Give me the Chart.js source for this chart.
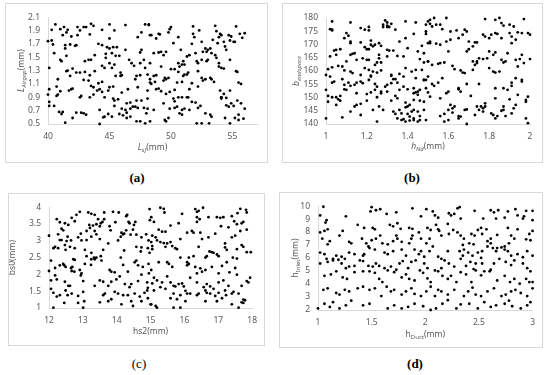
<!DOCTYPE html>
<html>
<head>
<meta charset="utf-8">
<script src="https://cdn.jsdelivr.net/npm/chart.js@4"></script>
<style>
  body { margin: 0; background: #fff; width: 550px; height: 375px; position: relative; overflow: hidden; }
  .panel { position: absolute; border: 1px solid #d9d9d9; box-sizing: border-box; background: #fff; }
  .panel canvas { display: block; }
  .tag { position: absolute; font-family: 'Liberation Serif', serif; font-size: 13px; color: #000;
         transform: translate(-50%, -50%); white-space: nowrap; }
</style>
</head>
<body>
<div class="panel" style="left:5px;top:3px;width:263px;height:160px"><canvas id="chartA"></canvas></div>
<div class="panel" style="left:282px;top:3px;width:261px;height:160px"><canvas id="chartB"></canvas></div>
<div class="panel" style="left:8px;top:193px;width:257px;height:153px"><canvas id="chartC"></canvas></div>
<div class="panel" style="left:279px;top:192px;width:264px;height:156px"><canvas id="chartD"></canvas></div>
<div class="tag" style="left:137px;top:178px;font-weight:bold">(a)</div>
<div class="tag" style="left:412px;top:178px;font-weight:bold">(b)</div>
<div class="tag" style="left:139px;top:364px">(c)</div>
<div class="tag" style="left:415px;top:364px;font-weight:bold">(d)</div>

<script>
// tick labels
const aXTicks = [40, 45, 50, 55];
const aYTicks = [0.5, 0.7, 0.9, 1.1, 1.3, 1.5, 1.7, 1.9, 2.1];
const bXTicks = [1, 1.2, 1.4, 1.6, 1.8, 2];
const bYTicks = [140, 145, 150, 155, 160, 165, 170, 175, 180];
const cXTicks = [12, 13, 14, 15, 16, 17, 18];
const cYTicks = [1, 1.5, 2, 2.5, 3, 3.5, 4];
const dXTicks = [1, 1.5, 2, 2.5, 3];
const dYTicks = [2, 3, 4, 5, 6, 7, 8, 9, 10];

// (a) L_sf vs L_Airgap
const aPoints = [
  [40.6,1.99],[41.0,1.92],[41.3,1.95],[41.6,1.91],[42.4,1.95],[42.6,1.9],[42.9,1.95],[43.1,1.95],[43.5,2.0],[43.7,1.97],
  [44.4,1.91],[45.0,1.99],[45.4,1.9],[46.3,1.98],[47.9,1.99],[48.2,1.98],[40.3,1.91],
  [41.2,1.83],[41.5,1.87],[41.9,1.81],[40.0,1.74],[40.3,1.75],[40.4,1.69],[41.4,1.68],[41.8,1.69],[42.2,1.67],[42.3,1.68],
  [41.4,1.63],[42.4,1.83],[43.4,1.84],[44.1,1.7],[44.4,1.68],[44.8,1.65],[45.0,1.63],[45.3,1.65],[45.6,1.65],[45.0,1.78],
  [45.2,1.56],[44.7,1.55],[45.5,1.52],[45.8,1.52],[46.3,1.61],[47.3,1.8],[47.6,1.87],[47.5,1.57],[47.6,1.61],[48.3,1.83],
  [40.5,1.56],[41.0,1.46],[41.1,1.44],[41.5,1.52],[43.0,1.44],[43.3,1.46],[43.5,1.46],[43.8,1.53],[44.7,1.49],[45.0,1.41],
  [45.4,1.39],[46.6,1.46],[46.8,1.41],[47.0,1.37],[47.5,1.41],[47.8,1.46],[47.9,1.34],[48.3,1.41],
  [40.1,1.34],[41.5,1.29],[41.6,1.3],[42.0,1.33],[42.3,1.27],[42.6,1.27],[43.0,1.28],[43.4,1.23],[43.8,1.29],[44.4,1.37],
  [44.6,1.34],[45.2,1.34],[45.9,1.22],[46.0,1.23],[45.9,1.27],[47.1,1.17],[47.2,1.22],[47.5,1.23],
  [40.8,1.17],[41.8,1.22],[42.9,1.16],[43.3,1.15],[43.5,1.07],[43.7,1.05],[44.1,1.11],[44.4,1.13],[44.0,1.0],[44.2,1.02],
  [44.9,1.0],[45.0,1.05],[45.3,1.06],[45.5,1.22],[46.5,1.02],[47.3,1.05],[48.3,1.12],
  [40.1,1.02],[40.7,1.06],[41.0,0.99],[41.7,1.0],[41.9,1.02],[42.0,1.03],[43.4,0.9],[43.7,0.94],[44.4,0.98],[44.6,0.9],
  [45.3,0.88],[45.4,0.85],[45.7,0.87],[46.0,0.97],[46.4,0.81],[46.7,0.82],[47.1,0.76],[47.2,0.85],[47.6,0.85],[48.1,0.88],
  [40.0,0.94],[40.7,0.92],[40.8,0.94],[42.6,0.9],[42.7,0.92],[40.1,0.83],[40.5,0.77],[40.1,0.77],[45.4,0.77],[45.8,0.65],
  [46.0,0.73],[46.3,0.71],[46.4,0.67],[46.4,0.59],[46.1,0.63],[46.7,0.73],[46.9,0.76],[47.3,0.74],[47.8,0.74],[48.0,0.66],
  [40.9,0.68],[41.1,0.65],[41.2,0.68],[42.0,0.59],[42.3,0.67],[42.7,0.67],[42.9,0.66],[43.1,0.64],[44.2,0.71],[44.5,0.6],
  [44.6,0.61],[44.9,0.65],[45.2,0.61],[46.7,0.61],[41.4,0.52],[44.2,0.5],[47.2,0.54],[47.5,0.54],[47.9,0.51],[48.3,0.54],
  [48.2,1.99],[48.4,1.83],[49.0,1.85],[49.1,1.84],[48.8,1.78],[49.8,1.87],[49.9,1.92],[50.0,1.95],[50.6,1.8],[50.2,1.71],
  [51.8,1.96],[51.8,1.85],[51.9,1.8],[51.7,1.7],[52.3,1.9],[52.5,1.73],[53.6,1.97],[53.7,1.89],[54.0,1.85],[53.9,1.8],
  [54.1,1.83],[54.3,1.73],[54.7,1.83],[54.9,1.81],[54.8,1.75],[55.3,1.96],[55.6,1.85],[56.0,1.86],[55.8,1.79],[53.4,1.76],
  [53.8,1.71],[54.4,1.66],[54.5,1.61],[55.1,1.73],[55.2,1.73],
  [48.6,1.56],[49.0,1.57],[49.4,1.53],[49.2,1.58],[49.6,1.58],[50.8,1.61],[51.3,1.51],[51.5,1.53],[52.0,1.56],[52.1,1.44],
  [52.2,1.41],[52.5,1.46],[52.6,1.58],[52.8,1.63],[52.9,1.58],[53.0,1.61],[53.2,1.63],[53.3,1.56],[53.0,1.46],[52.9,1.44],
  [53.6,1.53],[53.7,1.49],[53.9,1.41],[53.9,1.36],[54.1,1.34],[54.3,1.33],[54.8,1.46],[55.3,1.29],[55.4,1.28],
  [48.1,1.24],[48.3,1.17],[48.4,1.1],[48.6,1.22],[48.7,1.13],[48.8,1.23],[49.2,1.36],[49.4,1.15],[49.5,1.19],[49.6,1.17],
  [49.8,1.19],[50.0,1.32],[50.3,1.32],[50.6,1.41],[50.9,1.39],[51.0,1.44],[50.7,1.36],[51.1,1.39],[51.4,1.27],[51.3,1.24],
  [51.0,1.22],[51.1,1.24],[50.9,1.13],[50.5,1.12],[50.6,1.28],[51.5,1.02],[51.7,1.11],[52.2,1.29],[52.2,1.06],[52.6,1.15],
  [52.5,1.19],[52.8,1.17],[53.2,1.19],[53.3,1.17],[53.5,1.13],[54.0,1.0],[54.1,0.9],[54.3,0.95],[54.5,0.89],[54.8,1.0],
  [55.5,1.12],[55.7,1.1],
  [48.1,1.0],[48.8,1.02],[49.0,1.03],[49.2,0.99],[49.6,0.95],[49.9,0.98],[50.3,1.01],[50.2,0.88],[50.3,0.84],[50.6,0.9],
  [50.9,0.9],[51.3,0.9],[51.4,0.9],[51.7,0.83],[52.2,0.74],[52.4,0.77],[52.8,0.66],[53.2,0.64],[54.1,0.9],[54.1,0.88],
  [54.5,0.78],[54.7,0.76],[54.9,0.81],[55.1,0.77],[55.4,0.85],[55.7,0.81],[56.0,0.73],
  [48.1,0.73],[48.6,0.71],[49.4,0.81],[49.9,0.73],[50.3,0.74],[50.5,0.76],[50.9,0.71],[51.1,0.73],[51.5,0.71],[52.0,0.82],
  [49.5,0.56],[49.6,0.54],[49.8,0.59],[50.7,0.66],[50.9,0.64],[52.1,0.51],[52.5,0.51],[53.1,0.51],[53.3,0.61],[54.4,0.59],
  [54.8,0.51],[55.2,0.59],[55.5,0.64],[55.5,0.56],[55.9,0.58]
];

// (b) h_Nd vs b
const bPoints = [
  [1.03,178.7],[1.12,178.3],[1.02,175.8],[1.03,175.6],[1.03,175.3],[1.17,176.2],[1.19,175.6],[1.21,176.6],[1.21,175.3],[1.29,179.1],
  [1.3,178.3],[1.28,177.5],[1.3,177.1],[1.31,176.6],[1.3,176.6],[1.28,176.6],[1.32,177.8],[1.34,175.6],[1.39,178.7],[1.44,178.3],
  [1.49,177.5],[1.5,178.7],
  [1.09,172.4],[1.11,173.3],[1.1,174.3],[1.12,170.5],[1.12,171.1],[1.17,170.8],[1.19,169.0],[1.2,168.2],[1.22,171.5],[1.22,169.9],
  [1.24,169.9],[1.21,168.2],[1.23,169.3],[1.26,170.5],[1.27,169.5],[1.3,168.0],[1.31,167.7],[1.33,167.7],[1.36,171.1],[1.39,172.4],
  [1.43,174.0],[1.49,174.0],[1.5,170.5],[1.47,169.5],
  [1.04,167.7],[1.05,168.0],[1.07,168.2],[1.05,166.1],[1.02,165.5],[1.13,166.5],[1.12,166.1],[1.14,166.7],[1.18,164.8],[1.2,164.2],
  [1.21,164.2],[1.26,166.1],[1.26,164.8],[1.27,163.2],[1.25,163.2],[1.3,165.5],[1.35,165.7],[1.38,165.5],[1.4,168.6],[1.45,167.4],
  [1.48,166.7],[1.46,164.5],[1.48,163.2],[1.5,163.6],
  [1.01,160.7],[1.03,161.4],[1.06,161.9],[1.08,161.7],[1.1,163.6],[1.12,159.8],[1.13,159.2],[1.09,160.2],[1.15,164.2],[1.17,158.5],
  [1.19,161.1],[1.21,160.4],[1.23,159.8],[1.22,158.2],[1.24,162.3],[1.25,159.4],[1.27,160.2],[1.32,158.2],[1.32,158.5],[1.33,156.9],
  [1.34,156.9],[1.35,155.6],[1.36,158.9],[1.38,157.9],[1.39,161.1],[1.42,159.8],[1.44,157.3],[1.44,160.4],[1.47,160.4],[1.48,156.6],
  [1.5,157.9],
  [1.0,158.5],[1.02,157.9],[1.03,155.6],[1.04,156.0],[1.08,156.9],[1.09,154.8],[1.11,155.6],[1.12,154.4],[1.14,154.8],[1.15,155.6],
  [1.17,156.0],[1.18,155.4],[1.21,156.6],[1.22,157.9],[1.24,152.9],[1.24,155.1],[1.25,154.1],[1.27,152.2],[1.29,154.1],[1.3,154.8],
  [1.3,152.2],[1.32,155.4],[1.36,152.9],[1.38,154.1],[1.4,153.1],[1.43,153.5],[1.43,151.6],[1.44,151.9],[1.45,152.2],[1.46,152.9],
  [1.48,156.6],[1.49,153.5],[1.5,151.9],
  [1.0,152.9],[1.01,150.6],[1.03,150.1],[1.05,150.1],[1.06,149.3],[1.07,148.8],[1.07,150.6],[1.09,153.1],[1.1,152.9],[1.15,151.6],
  [1.2,151.3],[1.2,148.8],[1.22,151.9],[1.25,150.1],[1.26,146.6],[1.27,151.6],[1.32,148.8],[1.34,150.6],[1.35,149.7],[1.39,148.1],
  [1.4,146.6],[1.41,147.2],[1.43,149.1],[1.45,151.0],[1.46,148.8],[1.48,148.4],
  [1.01,148.4],[1.05,147.2],[1.12,144.7],[1.14,146.6],[1.15,147.2],[1.17,147.6],[1.23,145.3],[1.28,145.3],[1.33,144.7],[1.36,145.3],
  [1.37,144.0],[1.39,146.3],[1.4,143.8],[1.41,142.8],[1.42,144.7],[1.43,145.3],[1.45,144.7],[1.46,143.0],[1.48,145.3],
  [1.0,142.1],[1.08,142.5],[1.17,143.4],[1.25,140.9],[1.34,143.8],[1.35,142.1],[1.37,141.5],[1.38,141.8],[1.39,140.9],[1.41,141.3],
  [1.43,142.1],[1.43,141.5],[1.45,140.9],[1.46,141.5],[1.49,141.5],
  [1.51,179.3],[1.53,180.0],[1.51,177.8],[1.54,177.5],[1.52,176.8],[1.56,177.5],[1.57,175.8],[1.59,180.0],[1.49,174.9],[1.61,174.9],
  [1.64,175.3],[1.68,175.6],[1.78,179.6],[1.83,179.3],[1.85,180.0],[1.86,178.1],[1.87,177.1],[1.9,177.5],[1.92,176.8],[1.97,179.6],
  [1.99,174.3],[2.0,173.7],[1.94,174.6],[1.91,173.0],[1.9,174.3],
  [1.51,171.1],[1.51,170.5],[1.54,170.3],[1.56,169.9],[1.59,171.1],[1.61,171.8],[1.65,172.4],[1.67,173.7],[1.69,174.9],[1.7,171.1],
  [1.73,170.8],[1.74,170.8],[1.72,169.3],[1.69,167.4],[1.7,168.2],[1.77,173.7],[1.78,173.0],[1.8,172.4],[1.81,173.7],[1.83,174.3],
  [1.84,174.0],[1.91,170.5],[1.93,171.8],[1.96,174.3],[1.86,172.4],
  [1.5,163.6],[1.52,162.3],[1.55,162.7],[1.56,163.0],[1.58,163.2],[1.6,167.4],[1.62,161.9],[1.63,160.7],[1.66,160.2],[1.67,159.4],
  [1.68,159.2],[1.72,160.4],[1.73,162.3],[1.74,163.0],[1.74,163.6],[1.75,164.8],[1.72,163.6],[1.77,164.5],[1.79,164.8],[1.8,167.4],
  [1.82,166.1],[1.83,167.0],[1.86,164.2],[1.87,163.2],[1.88,163.6],[1.89,166.7],[1.93,164.2],[1.95,164.5],[1.96,166.1],[1.97,163.0],
  [2.0,164.5],[1.94,161.7],[1.8,161.1],[1.82,159.8],[1.83,159.4],[1.85,159.8],
  [1.49,156.6],[1.52,155.1],[1.53,154.4],[1.55,155.6],[1.57,157.3],[1.51,150.3],[1.56,149.7],[1.59,151.6],[1.6,152.2],[1.63,146.6],
  [1.65,153.5],[1.65,153.1],[1.66,152.2],[1.69,155.1],[1.71,150.6],[1.75,155.1],[1.76,146.6],[1.77,145.9],[1.78,147.8],[1.83,153.5],
  [1.83,149.7],[1.87,153.5],[1.89,152.9],[1.9,149.3],[1.91,154.4],[1.91,155.6],[1.93,157.3],[1.96,156.6],[1.96,156.0],[1.98,149.1],
  [1.98,148.4],[1.99,150.3],[1.94,151.0],[1.93,147.2],[1.92,145.9],[1.87,146.6],
  [1.61,147.2],[1.62,145.9],[1.6,145.3],[1.62,144.3],[1.65,143.0],[1.65,142.1],[1.66,142.8],[1.68,145.3],[1.69,145.5],[1.74,146.6],
  [1.75,145.3],[1.77,144.7],[1.78,146.6],[1.73,143.4],[1.81,144.0],[1.82,143.4],[1.83,142.1],[1.84,143.0],[1.86,145.0],[1.87,145.3],
  [1.88,143.0],[1.91,144.0],[1.98,142.1],[1.99,140.3],[1.56,143.0],[1.58,143.8],[1.58,140.9],[1.6,141.5],[1.69,140.0]
];

// (c) hs2 vs bs0
const cPoints = [
  [12.91,3.86],[12.81,3.77],[12.67,3.68],[12.23,3.64],[12.32,3.55],[12.47,3.52],[12.37,3.36],[12.42,3.31],[12.57,3.47],[12.76,3.58],
  [13.16,3.84],[13.25,3.8],[13.35,3.77],[13.63,3.84],[13.89,3.86],[14.06,3.84],[14.31,3.77],[14.28,3.73],[14.35,3.56],[14.38,3.52],
  [14.51,3.47],[14.55,3.56],[14.97,3.94],[15.02,3.7],[13.45,3.64],[13.53,3.52],[13.58,3.56],[13.63,3.64],[13.4,3.49],[13.3,3.45],
  [13.19,3.47],[13.21,3.38],[13.11,3.29],[13.35,3.29],[13.5,3.43],[13.79,3.43],[13.82,3.31],[14.14,3.24],[14.19,3.19],[13.96,3.55],
  [14.48,3.33],
  [12.0,3.15],[12.27,3.19],[12.55,3.12],[12.32,3.02],[12.52,2.99],[12.65,3.01],[12.62,2.82],[12.86,3.1],[12.94,3.21],[12.96,3.01],
  [13.11,3.02],[13.25,3.12],[13.4,3.19],[13.5,3.05],[13.75,2.92],[14.04,3.01],[14.12,3.12],[14.22,3.21],[14.28,3.31],[14.41,3.18],
  [14.58,3.18],[14.73,3.1],[14.87,3.19],[14.94,3.01],[15.02,2.96],
  [12.13,2.78],[12.18,2.82],[12.27,2.78],[12.37,3.02],[12.47,2.87],[12.49,2.73],[12.76,2.78],[13.06,2.73],[13.11,2.54],[13.25,2.64],
  [13.33,2.5],[13.35,2.45],[13.4,2.5],[13.53,2.54],[13.6,2.73],[14.12,2.5],[14.22,2.71],[14.58,2.82],[14.73,2.8],[14.71,2.68],
  [14.92,2.78],[14.97,2.64],
  [12.06,2.41],[12.18,2.19],[12.32,2.27],[12.42,2.31],[12.45,2.27],[12.49,2.22],[12.65,2.19],[12.69,2.22],[12.72,2.45],[12.76,2.43],
  [12.67,2.1],[12.75,2.08],[12.91,2.13],[12.96,2.03],[13.06,2.31],[13.24,2.28],[13.25,2.45],[13.55,2.41],[13.79,2.13],[13.84,2.08],
  [13.94,2.06],[14.09,1.94],[14.19,2.28],[14.33,2.08],[14.53,2.36],[14.58,2.41],[14.63,2.27],[14.77,2.22],[14.94,2.31],[15.02,2.13],
  [12.0,2.1],[12.18,1.97],[12.23,1.85],[12.06,1.82],[12.47,1.78],[12.57,1.66],[12.62,1.66],[12.94,1.97],[13.01,1.8],[13.35,1.66],
  [13.5,1.82],[13.6,1.78],[13.75,1.66],[13.84,1.78],[13.99,1.85],[14.24,1.71],[14.43,1.71],[14.38,1.62],[14.63,1.8],[14.9,1.76],
  [14.73,1.99],
  [12.06,1.57],[12.13,1.45],[12.23,1.34],[12.32,1.38],[12.49,1.52],[12.55,1.38],[12.67,1.43],[12.86,1.36],[13.01,1.48],[13.6,1.38],
  [13.65,1.43],[13.75,1.2],[13.94,1.48],[14.04,1.43],[14.19,1.38],[14.33,1.38],[14.53,1.43],[14.68,1.34],[14.82,1.45],[14.92,1.6],
  [14.43,1.2],
  [12.13,1.01],[12.45,1.15],[12.86,1.15],[13.04,1.2],[13.01,1.01],[13.5,1.17],[14.14,1.11],[14.48,1.06],[14.73,1.2],[15.02,1.11],
  [14.92,1.29],[13.84,1.26],
  [15.29,3.98],[15.39,3.95],[15.41,3.84],[15.93,3.8],[16.32,3.94],[16.37,3.86],[16.42,3.89],[16.55,3.98],[16.37,3.7],[16.45,3.64],
  [16.71,3.7],[16.96,3.7],[17.06,3.68],[17.15,3.7],[17.4,3.73],[17.57,3.82],[17.65,3.95],[17.84,3.84],[17.82,3.92],[14.98,3.61],
  [15.1,3.56],[15.59,3.45],[15.83,3.52],[16.37,3.56],[17.08,3.43],[17.3,3.4],[17.47,3.58],[17.55,3.49],[17.69,3.52],[17.74,3.56],
  [17.84,3.33],
  [15.24,3.33],[15.34,3.27],[15.44,3.27],[15.05,3.15],[15.15,3.1],[15.19,3.01],[15.29,2.96],[15.39,2.93],[15.49,2.92],[15.59,2.96],
  [15.88,3.05],[16.08,3.24],[16.22,3.29],[16.27,3.24],[16.47,3.24],[16.71,3.1],[16.52,3.05],[16.91,3.21],[17.4,3.1],[17.5,3.15],
  [17.65,3.29],[17.69,2.87],[17.2,2.92],[17.55,2.75],[17.84,2.66],[17.96,2.66],
  [15.05,2.84],[15.05,2.75],[15.44,2.82],[15.64,2.84],[15.73,2.78],[15.78,2.75],[15.88,2.5],[16.08,2.36],[16.13,2.5],[16.27,2.54],
  [16.42,2.82],[16.62,2.5],[16.66,2.54],[16.74,2.68],[16.81,2.66],[16.86,2.64],[16.96,2.59],[17.01,2.54],[17.2,2.8],[17.25,2.73],
  [17.43,2.5],[17.74,2.82],
  [15.24,2.36],[15.49,2.36],[15.54,2.31],[15.64,2.22],[16.08,2.27],[16.13,2.31],[16.32,2.22],[16.37,2.03],[16.47,2.18],[16.52,2.08],
  [16.62,2.13],[16.81,2.22],[17.01,2.03],[17.11,2.25],[17.25,2.36],[17.33,2.06],[17.5,2.19],[17.55,1.99],[17.55,2.47],[14.95,2.03],
  [15.1,1.9],[15.19,1.82],[15.05,1.73],[15.34,1.76],
  [15.49,1.94],[15.59,1.76],[15.68,1.66],[15.73,1.64],[15.83,1.71],[15.93,1.73],[15.98,1.64],[16.17,1.9],[16.37,1.76],[16.57,1.62],
  [16.66,1.71],[16.76,1.64],[16.86,1.57],[17.01,1.76],[17.15,1.82],[17.3,1.66],[17.45,1.48],[17.69,1.66],[17.84,1.8],[17.94,1.9],
  [17.89,1.76],
  [14.9,1.52],[15.1,1.52],[15.29,1.62],[15.44,1.57],[15.59,1.29],[15.68,1.43],[15.78,1.26],[15.88,1.38],[16.03,1.51],[16.08,1.43],
  [16.17,1.43],[16.37,1.38],[16.42,1.43],[16.62,1.52],[16.66,1.45],[16.76,1.43],[16.91,1.36],[17.01,1.45],[17.2,1.52],[17.4,1.43],
  [17.6,1.43],[17.74,1.25],[17.79,1.23],[17.69,1.17],
  [15.0,1.11],[15.15,1.06],[15.19,1.01],[15.68,1.01],[15.88,1.01],[16.03,1.2],[16.62,1.2],[16.96,1.2],[17.11,1.29],[17.23,1.38],
  [17.4,1.11],[17.6,1.01],[17.74,1.15]
];

// (d) h_Duct vs h_Inlet
const dPoints = [
  [1.05,9.95],[1.02,9.28],[1.08,8.92],[1.07,8.73],[1.26,9.21],[1.5,9.92],[1.49,9.59],[1.54,9.68],[1.58,9.76],[1.64,9.4],
  [1.73,9.52],[1.88,9.83],[1.96,9.21],[2.01,9.76],[2.07,9.59],[2.09,9.28],[2.12,9.11],[2.22,9.45],[2.24,9.28],[2.3,9.83],
  [2.32,9.92],[2.27,9.4],[2.33,9.04],[2.46,9.64],[2.54,9.04],[2.61,9.68],[2.64,9.52],[2.66,9.04],[2.68,9.68],[2.74,9.11],
  [2.77,9.59],[2.84,9.76],[2.91,9.04],[2.94,9.64],[2.92,9.21],[3.0,9.64],[3.0,8.92],[2.86,9.28],
  [1.02,7.97],[1.09,8.21],[1.06,8.09],[1.23,8.09],[1.37,8.56],[1.43,8.32],[1.51,8.32],[1.53,8.21],[1.67,8.56],[1.7,8.44],
  [1.74,8.68],[1.77,8.25],[1.85,8.32],[1.88,8.25],[1.94,7.97],[2.02,8.32],[2.05,8.16],[2.1,8.56],[2.12,8.21],[2.13,8.09],
  [2.21,8.63],[2.26,8.16],[2.3,7.97],[2.33,7.73],[2.36,7.49],[2.43,7.85],[2.46,7.73],[2.49,8.16],[2.52,8.32],[2.53,7.85],
  [2.57,8.21],[2.61,7.49],[2.67,7.78],[2.77,8.32],[2.8,7.73],[2.86,8.21],[2.97,7.85],[3.0,8.09],
  [1.04,7.49],[1.09,7.06],[1.11,7.3],[1.2,7.73],[1.29,7.25],[1.31,7.13],[1.41,7.49],[1.45,7.13],[1.47,6.89],[1.5,7.37],
  [1.54,7.49],[1.58,7.73],[1.6,7.13],[1.65,7.06],[1.7,7.3],[1.73,7.73],[1.74,7.49],[1.78,7.25],[1.85,7.13],[1.87,7.49],
  [1.88,7.73],[1.96,7.49],[2.01,7.13],[2.04,7.49],[2.07,6.89],[2.15,7.73],[2.22,7.85],[2.35,7.01],[2.36,6.65],[2.41,7.13],
  [2.45,7.06],[2.49,6.42],[2.58,7.3],[2.61,7.13],[2.63,6.77],[2.74,6.89],[2.78,7.13],[2.83,7.49],[2.94,7.44],[2.98,7.37],
  [2.58,6.89],
  [1.02,6.42],[1.06,6.3],[1.08,5.94],[1.14,5.94],[1.17,6.18],[1.22,6.1],[1.25,5.94],[1.29,6.42],[1.34,6.3],[1.42,6.18],
  [1.43,6.3],[1.48,6.77],[1.53,6.65],[1.62,6.42],[1.65,6.3],[1.7,6.53],[1.78,6.65],[1.82,6.18],[1.9,6.65],[1.94,6.3],
  [1.96,6.53],[1.99,6.1],[2.04,6.53],[2.12,6.1],[2.15,5.94],[2.21,6.53],[2.32,6.53],[2.35,6.18],[2.4,6.42],[2.44,6.18],
  [2.52,6.01],[2.53,6.53],[2.66,6.53],[2.67,6.77],[2.71,6.82],[2.74,6.65],[2.77,6.53],[2.8,6.18],[2.86,6.3],[2.91,6.06],
  [2.95,6.53],[3.0,6.18],
  [1.02,5.58],[1.09,5.7],[1.14,5.82],[1.19,5.87],[1.22,5.58],[1.26,5.22],[1.29,5.34],[1.34,5.39],[1.39,5.82],[1.42,5.77],
  [1.47,5.39],[1.51,5.34],[1.54,5.58],[1.57,5.39],[1.62,5.22],[1.68,5.34],[1.73,5.1],[1.76,5.58],[1.79,5.77],[1.84,5.22],
  [1.87,5.7],[1.91,5.82],[1.99,5.58],[2.02,5.22],[2.09,5.05],[2.15,5.22],[2.18,5.82],[2.22,5.58],[2.27,5.34],[2.33,5.94],
  [2.38,5.39],[2.42,5.7],[2.45,5.15],[2.47,5.58],[2.53,5.58],[2.6,4.98],[2.64,5.58],[2.69,5.94],[2.75,5.7],[2.8,5.46],
  [2.83,5.82],[2.91,5.58],[2.95,5.22],[2.98,4.98],
  [1.06,4.63],[1.12,4.74],[1.17,4.98],[1.23,4.51],[1.27,4.39],[1.34,4.91],[1.42,4.98],[1.48,4.98],[1.53,4.86],[1.57,4.39],
  [1.6,4.15],[1.65,5.05],[1.71,4.91],[1.78,4.51],[1.82,4.74],[1.85,4.39],[1.9,4.27],[1.95,5.05],[1.98,4.86],[2.02,4.43],
  [2.05,4.15],[2.12,4.98],[2.16,4.63],[2.21,4.39],[2.24,4.63],[2.29,4.15],[2.33,4.91],[2.38,4.74],[2.43,4.15],[2.47,5.05],
  [2.52,4.67],[2.55,4.98],[2.61,5.1],[2.67,4.27],[2.74,4.63],[2.79,4.15],[2.83,4.39],[2.88,4.03],[2.94,4.39],[2.97,4.15],
  [3.0,4.15],
  [1.05,3.55],[1.09,3.67],[1.17,3.31],[1.2,3.19],[1.25,3.55],[1.29,3.43],[1.37,3.67],[1.42,3.79],[1.48,3.55],[1.53,3.67],
  [1.59,3.07],[1.64,3.79],[1.68,3.43],[1.71,3.55],[1.78,3.19],[1.82,3.43],[1.87,3.67],[1.9,3.24],[1.96,3.07],[2.01,3.43],
  [2.05,3.79],[2.09,3.07],[2.12,3.55],[2.15,3.43],[2.21,3.19],[2.27,3.55],[2.36,3.07],[2.4,3.43],[2.44,3.72],[2.47,3.19],
  [2.52,3.07],[2.58,3.43],[2.64,3.67],[2.71,3.07],[2.75,3.19],[2.8,3.43],[2.84,3.55],[2.89,3.31],[2.95,3.07],[3.0,3.67],
  [1.0,2.12],[1.06,2.48],[1.11,2.24],[1.14,2.6],[1.2,2.12],[1.26,2.36],[1.31,2.72],[1.42,2.36],[1.48,2.48],[1.65,2.12],
  [1.71,2.36],[1.78,2.12],[1.84,2.24],[1.9,2.48],[1.98,2.29],[2.05,2.0],[2.1,2.12],[2.16,2.48],[2.21,2.76],[2.29,2.12],
  [2.33,2.43],[2.41,2.48],[2.49,2.12],[2.55,2.6],[2.61,2.24],[2.66,2.36],[2.74,2.48],[2.78,2.72],[2.81,2.29],[2.89,2.12],
  [2.95,2.36],[2.98,2.6]
];

const TEXT = '#595959';
const FONT = "'Noto Sans', sans-serif";
Chart.defaults.font.family = FONT;
Chart.defaults.font.size = 8.5;
Chart.defaults.color = TEXT;

// axis title with subscripts: parts are [text, isSub, italic]
function drawParts(ctx, parts) {
  const fontFor = p => (p[2] ? 'italic ' : '') + (p[1] ? '6px ' : '8.5px ') + FONT;
  let w = 0;
  parts.forEach(p => { ctx.font = fontFor(p); w += ctx.measureText(p[0]).width; });
  let x = -w / 2;
  parts.forEach(p => {
    ctx.font = fontFor(p);
    ctx.fillText(p[0], x, p[1] ? 2.5 : 0);
    x += ctx.measureText(p[0]).width;
  });
}

function titlePlugin(t) {
  return {
    id: 'axisTitles',
    afterDraw(chart) {
      const { ctx, chartArea: a } = chart;
      ctx.save();
      ctx.fillStyle = TEXT;
      ctx.textBaseline = 'middle';
      ctx.textAlign = 'left';
      ctx.save();
      ctx.translate((a.left + a.right) / 2, a.bottom + t.xOff);
      drawParts(ctx, t.x);
      ctx.restore();
      ctx.save();
      ctx.translate(a.left - t.yOff, (a.top + a.bottom) / 2);
      ctx.rotate(-Math.PI / 2);
      drawParts(ctx, t.y);
      ctx.restore();
      ctx.restore();
    }
  };
}

function makeChart(id, pts, xr, yr, xTicks, yTicks, box, titles) {
  new Chart(document.getElementById(id), {
    type: 'scatter',
    data: {
      datasets: [{
        data: pts.map(p => ({ x: p[0], y: p[1] })),
        backgroundColor: '#000',
        borderColor: '#000',
        borderWidth: 0,
        pointRadius: 1.4,
        clip: false
      }]
    },
    options: {
      responsive: true,
      maintainAspectRatio: false,
      animation: false,
      layout: { padding: { top: box.t, right: box.r, left: 0, bottom: 0 } },
      plugins: { legend: { display: false }, tooltip: { enabled: false } },
      scales: {
        x: {
          type: 'linear', min: xr[0], max: xr[1],
          grid: { display: false, drawTicks: false },
          border: { display: true, color: '#d9d9d9' },
          ticks: { padding: 7, maxRotation: 0, autoSkip: false, callback: v => String(v) },
          afterBuildTicks: s => { s.ticks = xTicks.map(v => ({ value: v })); },
          afterFit: s => { s.height = box.b; }
        },
        y: {
          type: 'linear', min: yr[0], max: yr[1],
          grid: { display: false, drawTicks: false },
          border: { display: true, color: '#d9d9d9' },
          ticks: { padding: 8, autoSkip: false, callback: v => String(v) },
          afterBuildTicks: s => { s.ticks = yTicks.map(v => ({ value: v })); },
          afterFit: s => { s.width = box.l; }
        }
      }
    },
    plugins: [titlePlugin(titles)]
  });
}

makeChart('chartA', aPoints, [40, 57], [0.5, 2.1], aXTicks, aYTicks,
  { l: 42, r: 10, t: 10, b: 38 },
  { x: [['L', 0, 1], ['sf', 1, 1], ['(mm)', 0, 0]],
    y: [['L', 0, 1], ['Airgap', 1, 1], ['(mm)', 0, 0]], xOff: 24, yOff: 26 });

makeChart('chartB', bPoints, [1, 2], [140, 180], bXTicks, bYTicks,
  { l: 43, r: 12, t: 14, b: 38 },
  { x: [['h', 0, 1], ['Nd', 1, 1], ['(mm)', 0, 0]],
    y: [['b', 0, 1], ['endspace', 1, 1]], xOff: 23, yOff: 29 });

makeChart('chartC', cPoints, [12, 18], [1, 4], cXTicks, cYTicks,
  { l: 40, r: 11, t: 7, b: 37 },
  { x: [['hs2(mm)', 0, 0]], y: [['bs0(mm)', 0, 0]], xOff: 24, yOff: 36 });

makeChart('chartD', dPoints, [1, 3], [2, 10], dXTicks, dYTicks,
  { l: 38, r: 9, t: 5, b: 37 },
  { x: [['h', 0, 0], ['Duct', 1, 0], ['(mm)', 0, 0]],
    y: [['h', 0, 0], ['Inlet', 1, 0], ['(mm)', 0, 0]], xOff: 25, yOff: 22 });
</script>
</body>
</html>
